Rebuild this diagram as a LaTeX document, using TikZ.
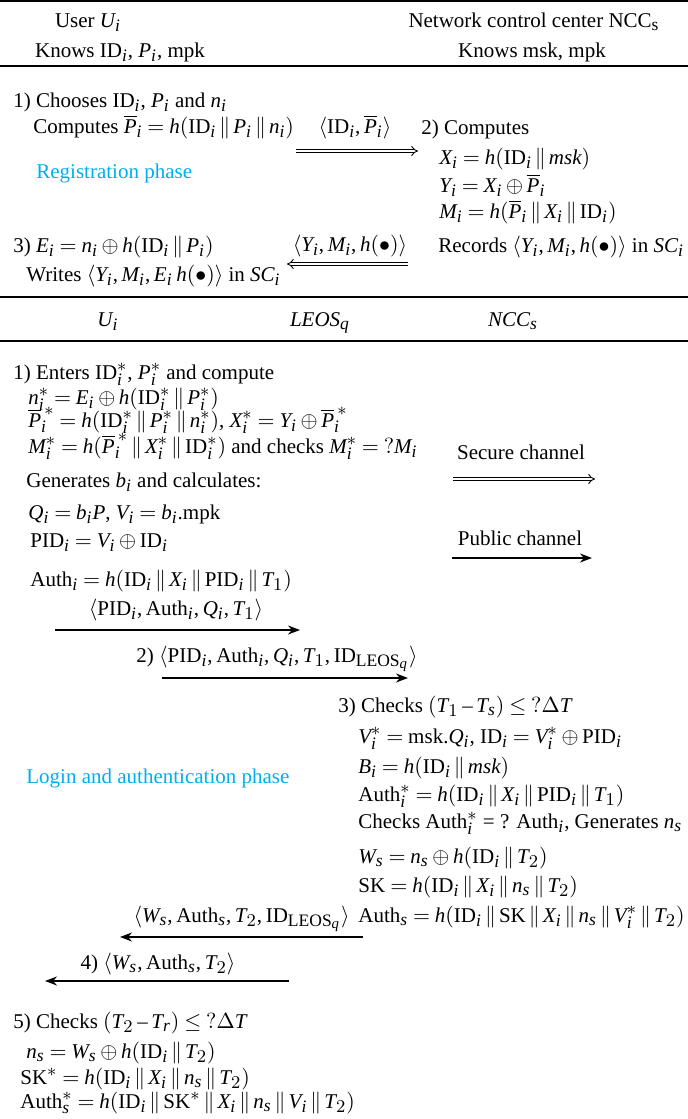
\documentclass[tikz,border=0pt]{standalone}
\usepackage{fontspec}
\setmainfont{Liberation Serif}
\usepackage[italic]{mathastext}
\usetikzlibrary{arrows.meta}
\definecolor{phase}{RGB}{0,174,239}
\newcommand{\catt}{\mskip2.5mu\|\mskip2.5mu}
\newcommand{\rmID}{\mathrm{ID}}
\newcommand{\diagfont}{\fontsize{10.5}{13}\selectfont\thickmuskip=4mu plus 2mu\medmuskip=3mu plus 1mu}
\begin{document}
\begin{tikzpicture}[x=0.5pt,y=-0.5pt,
  txt/.style={anchor=base west, inner sep=0pt, font=\diagfont},
  ctxt/.style={anchor=base, inner sep=0pt, font=\diagfont},
  rtxt/.style={anchor=base east, inner sep=0pt, font=\diagfont},
  phasetxt/.style={txt, text=phase},
  rule/.style={line width=0.8pt},
  secure/.style={double, double distance=1.3pt, line width=0.45pt, -{Implies}},
  public/.style={line width=0.7pt, -{Stealth[length=6pt,width=4.5pt]}}]
\useasboundingbox (0,0) rectangle (688,1119);
% rules
\draw[rule] (0,1) -- (688,1);
\draw[rule] (0,66) -- (688,66);
\draw[rule] (0,297) -- (688,297);
\draw[rule] (0,341) -- (688,341);
% header
\node[ctxt] (hu) at (88,27) {User $U_i$};
\node[ctxt] (hn) at (534,27) {Network control center NCC$_{\mathrm{s}}$};
\node[ctxt] (ku) at (120,57) {Knows ID$_i$, $P_i$, mpk};
\node[ctxt] (kn) at (532,57) {Knows msk, mpk};
% registration
\node[txt] (r1) at (13,107) {1) Chooses ID$_i$, $P_i$ and $n_i$};
\node[txt] (r2) at (33,133) {Computes $\overline{P}_i = h(\rmID_i \catt P_i \catt n_i)$};
\node[ctxt] (m1) at (355,133) {$\langle \rmID_i, \overline{P}_i\rangle$};
\node[txt] (r3) at (421,134) {2) Computes};
\node[txt] (r4) at (439,164) {$X_i = h(\rmID_i \catt msk)$};
\node[phasetxt] (ph1) at (36,178) {Registration phase};
\node[txt] (r5) at (439,192) {$Y_i = X_i \oplus \overline{P}_i$};
\node[txt] (r6) at (439,218) {$M_i = h(\overline{P}_i \catt X_i \catt \rmID_i)$};
\node[txt] (r7) at (13,252) {3) $E_i = n_i \oplus h(\rmID_i \catt P_i)$};
\node[ctxt] (m2) at (350,251) {$\langle Y_i, M_i, h(\bullet)\rangle$};
\node[txt] (r8) at (438,252) {Records $\langle Y_i, M_i, h(\bullet)\rangle$ in $SC_i$};
\node[txt] (r9) at (26,281) {Writes $\langle Y_i, M_i, E_i\, h(\bullet)\rangle$ in $SC_i$};
\coordinate (a1s) at (296,151); \coordinate (a1e) at (418,151);
\coordinate (a2s) at (408,264); \coordinate (a2e) at (287,264);
\draw[secure] (a1s) -- (a1e);
\draw[secure] (a2s) -- (a2e);
% second header
\node[ctxt] (h2u) at (108,326) {$U_i$};
\node[ctxt] (h2l) at (320,326) {$LEOS_q$};
\node[ctxt] (h2n) at (513,326) {$NCC_s$};
% login
\node[txt] (l1) at (13,379) {1) Enters ID$^*_i$, $P^*_i$ and compute};
\node[txt] (l2) at (28,404) {$n^*_i = E_i \oplus h(\rmID^*_i \catt P^*_i)$};
\node[txt] (l3) at (28,427) {$\overline{P}^{\,*}_i = h(\rmID^*_i \catt P^*_i \catt n^*_i)$, $X^*_i = Y_i \oplus \overline{P}^{\,*}_i$};
\node[txt] (l4) at (28,453) {$M^*_i = h(\overline{P}^{\,*}_i \catt X^*_i \catt \rmID^*_i)$ and checks $M^*_i = {?}M_i$};
\node[ctxt] (sc) at (521,459) {Secure channel};
\node[txt] (l5) at (26,487) {Generates $b_i$ and calculates:};
\node[txt] (l6) at (28,519) {$Q_i = b_iP$, $V_i = b_i.\mathrm{mpk}$};
\node[ctxt] (pc) at (520,545) {Public channel};
\node[txt] (l7) at (30,547) {PID$_i = V_i \oplus \rmID_i$};
\node[txt] (l8) at (30,586) {Auth$_i = h(\rmID_i \catt X_i \catt \mathrm{PID}_i \catt T_1)$};
\node[ctxt] (m3) at (176,615) {$\langle \mathrm{PID}_i, \mathrm{Auth}_i, Q_i, T_1\rangle$};
\node[ctxt] (m4) at (277,662) {2) $\langle \mathrm{PID}_i, \mathrm{Auth}_i, Q_i, T_1, \rmID_{\mathrm{LEOS}_q}\rangle$};
\node[txt] (l9) at (338,712) {3) Checks $(T_1 - T_s) \leq {?}\Delta T$};
\node[txt] (l10) at (358,743) {$V^*_i = \mathrm{msk}.Q_i$, $\rmID_i = V^*_i \oplus \mathrm{PID}_i$};
\node[txt] (l11) at (358,773) {$B_i = h(\rmID_i \catt msk)$};
\node[phasetxt] (ph2) at (26,783) {Login and authentication phase};
\node[txt] (l12) at (358,801) {Auth$^*_i = h(\rmID_i \catt X_i \catt \mathrm{PID}_i \catt T_1)$};
\node[txt] (l13) at (358,828) {Checks Auth$^*_i$ = ? Auth$_i$, Generates $n_s$};
\node[txt] (l14) at (358,863) {$W_s = n_s \oplus h(\rmID_i \catt T_2)$};
\node[txt] (l15) at (358,892) {SK $= h(\rmID_i \catt X_i \catt n_s \catt T_2)$};
\node[txt] (l16) at (358,922) {Auth$_s = h(\rmID_i \catt \mathrm{SK} \catt X_i \catt n_s \catt V^*_i \catt T_2)$};
\node[rtxt] (m5) at (350,922) {$\langle W_s, \mathrm{Auth}_s, T_2, \rmID_{\mathrm{LEOS}_q}\rangle$};
\node[ctxt] (m6) at (158,969) {4) $\langle W_s, \mathrm{Auth}_s, T_2\rangle$};
\node[txt] (l17) at (13,1028) {5) Checks $(T_2 - T_r) \leq {?}\Delta T$};
\node[txt] (l18) at (26,1058) {$n_s = W_s \oplus h(\rmID_i \catt T_2)$};
\node[txt] (l19) at (20,1084) {SK$^* = h(\rmID_i \catt X_i \catt n_s \catt T_2)$};
\node[txt] (l20) at (20,1108) {Auth$^*_s = h(\rmID_i \catt \mathrm{SK}^* \catt X_i \catt n_s \catt V_i \catt T_2)$};
% arrows
\coordinate (s1) at (453,479); \coordinate (s2) at (595,479);
\coordinate (p1) at (452,558); \coordinate (p2) at (592,558);
\coordinate (b1) at (55,630); \coordinate (b2) at (300,630);
\coordinate (c1) at (162,678); \coordinate (c2) at (408,678);
\coordinate (d1) at (363,937); \coordinate (d2) at (120,937);
\coordinate (e1) at (289,981); \coordinate (e2) at (45,981);
\draw[secure] (s1) -- (s2);
\draw[public] (p1) -- (p2);
\draw[public] (b1) -- (b2);
\draw[public] (c1) -- (c2);
\draw[public] (d1) -- (d2);
\draw[public] (e1) -- (e2);
\end{tikzpicture}
\end{document}
